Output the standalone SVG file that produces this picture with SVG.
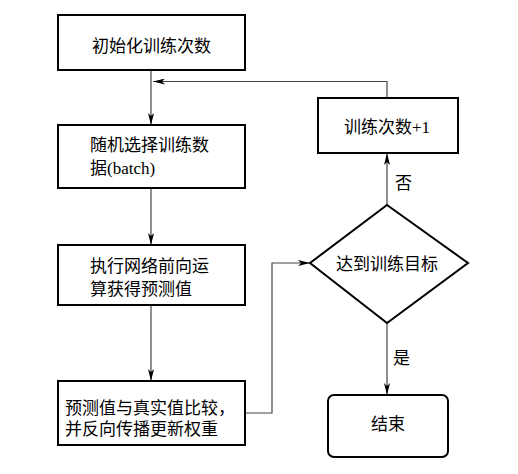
<svg xmlns="http://www.w3.org/2000/svg" width="518" height="474" viewBox="0 0 518 474">
<style>
.box{fill:#fff;stroke:#000;stroke-width:2}
.t{font-family:'Liberation Serif','Noto Sans CJK SC',serif;font-size:17px;fill:#000}
.c{text-anchor:middle}
.ln{fill:none;stroke:#444;stroke-width:1.2}
</style>
<defs>
<marker id="ah" viewBox="0 0 12 6" refX="12" refY="3" markerWidth="12" markerHeight="6" markerUnits="userSpaceOnUse" orient="auto">
<path d="M0,0 L12,3 L0,6 L3,3 Z" fill="#000"/>
</marker>
</defs>
<rect width="518" height="474" fill="#fff"/>
<g id="connectors">
<path class="ln" d="M151,70 V125" marker-end="url(#ah)"/>
<path class="ln" d="M387,98 V81.5 H153" marker-end="url(#ah)"/>
<path class="ln" d="M151,188 V245" marker-end="url(#ah)"/>
<path class="ln" d="M151,305 V381" marker-end="url(#ah)"/>
<path class="ln" d="M245,413 H272 V263 H310" marker-end="url(#ah)"/>
<path class="ln" d="M387,205 V153" marker-end="url(#ah)"/>
<path class="ln" d="M387,323 V395" marker-end="url(#ah)"/>
<text class="t" x="395" y="189">否</text>
<text class="t" x="393" y="364">是</text>
</g>
<g id="init">
<rect class="box" x="58" y="15" width="187" height="55"/>
<text class="t c" x="151.5" y="51.5">初始化训练次数</text>
</g>
<g id="select">
<rect class="box" x="58" y="125" width="187" height="63"/>
<text class="t" x="90" y="150.5">随机选择训练数</text>
<text class="t" x="90" y="174">据(batch)</text>
</g>
<g id="forward">
<rect class="box" x="58" y="245" width="187" height="60"/>
<text class="t" x="90" y="272">执行网络前向运</text>
<text class="t" x="90" y="295">算获得预测值</text>
</g>
<g id="backward">
<rect class="box" x="58" y="381" width="187" height="64"/>
<text class="t" x="65" y="414">预测值与真实值比较，</text>
<text class="t" x="65" y="435">并反向传播更新权重</text>
</g>
<g id="increment">
<rect class="box" x="318" y="98" width="140" height="55"/>
<text class="t c" x="387" y="133">训练次数+1</text>
</g>
<g id="decision">
<polygon class="box" points="387,205 468,263 387,323 310,263"/>
<text class="t c" x="387" y="269.5">达到训练目标</text>
</g>
<g id="end">
<rect class="box" x="328" y="395" width="120" height="62" rx="6"/>
<text class="t c" x="388" y="429.5">结束</text>
</g>
</svg>
